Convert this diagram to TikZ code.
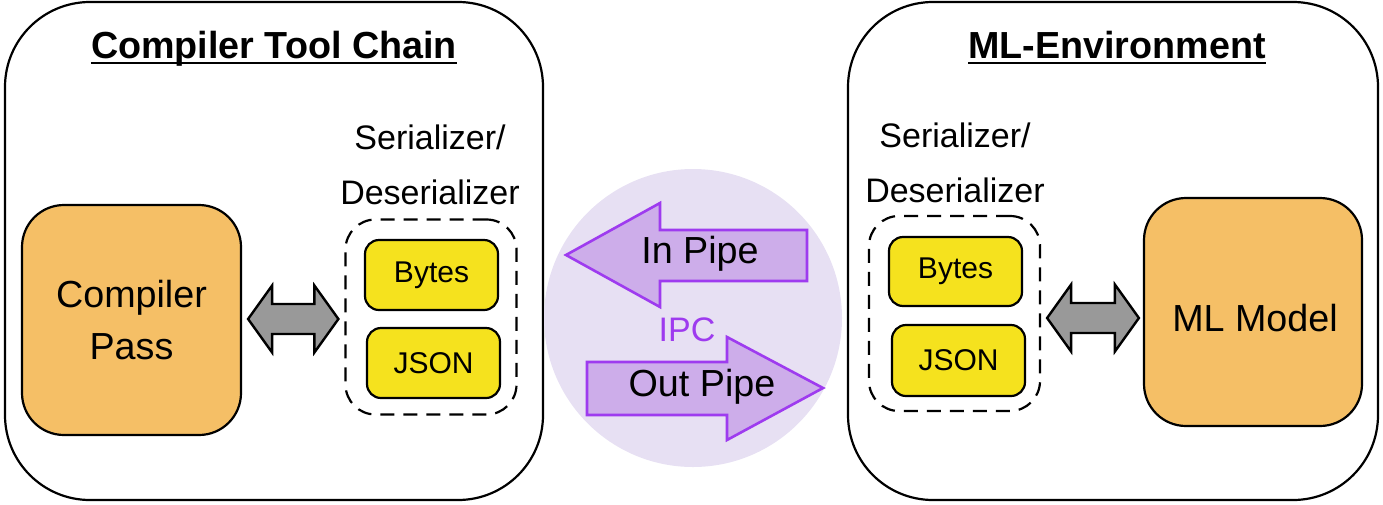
\documentclass[tikz,border=0pt]{standalone}
\usepackage{fontspec}
\setmainfont{Liberation Sans}
\usetikzlibrary{calc}

\definecolor{passorange}{HTML}{F5BF66}
\definecolor{fmtyellow}{HTML}{F5E21E}
\definecolor{linkgray}{HTML}{999999}
\definecolor{ipcbg}{HTML}{E7E0F3}
\definecolor{pipefill}{HTML}{CDADEA}
\definecolor{pipeline}{HTML}{9E3BEF}

\tikzset{
  outerbox/.style={draw=black, line width=2.2pt, rounded corners=85pt},
  stagebox/.style={draw=black, line width=2.2pt, fill=passorange, rounded corners=42pt},
  fmtbox/.style={draw=black, line width=2.2pt, fill=fmtyellow, rounded corners=14pt},
  groupbox/.style={draw=black, line width=2.2pt, dash pattern=on 14pt off 9pt, rounded corners=30pt},
  linkarrow/.style={draw=black, line width=2.4pt, fill=linkgray, line join=miter},
  pipe/.style={draw=pipeline, line width=2.6pt, fill=pipefill, line join=miter},
  bigtext/.style={font=\fontsize{37.7}{52}\selectfont, inner sep=0pt},
  midtext/.style={font=\fontsize{34}{40}\selectfont, inner sep=0pt},
  smalltext/.style={font=\fontsize{30}{34}\selectfont, inner sep=0pt},
  titletext/.style={font=\fontsize{37.7}{45}\selectfont\bfseries, inner sep=0pt},
}

% two-headed block arrow between a left and a right tip on one level
\newcommand\dblarrow[2]{%
  \path[linkarrow] let \p1=(#1), \p2=(#2) in
    (\x1,\y1) -- (\x1+24pt,\y1+33.5pt) -- (\x1+24pt,\y1+15pt)
    -- (\x2-24pt,\y1+15pt) -- (\x2-24pt,\y1+33.5pt) -- (\x2,\y1)
    -- (\x2-24pt,\y1-33.5pt) -- (\x2-24pt,\y1-15pt)
    -- (\x1+24pt,\y1-15pt) -- (\x1+24pt,\y1-33.5pt) -- cycle;}

\begin{document}
\begin{tikzpicture}[x=1pt, y=-1pt]
\useasboundingbox (0,0) rectangle (1383,504);

% ---------- compiler side ----------
\draw[outerbox] (5,2) rectangle (543,500);
\node[titletext, anchor=base] (titleL) at (274,58) {Compiler Tool Chain};
\draw[line width=2.6pt] ([yshift=-5pt]titleL.base west) -- ([yshift=-5pt]titleL.base east);

\node[stagebox, minimum width=219pt, minimum height=230pt] (pass) at (131.5,320) {};
\node[bigtext, align=center] (passtxt) at (pass.center) {Compiler\\Pass};

\node[midtext, anchor=base] (serL1) at (430,149) {Serializer/};
\node[midtext, anchor=base] (serL2) at (430,204) {Deserializer};

\node[groupbox, minimum width=171pt, minimum height=195pt] (grpL) at (431,317) {};
\node[fmtbox, minimum width=133pt, minimum height=70pt] (bytesL) at (431.5,275) {};
\node[smalltext] at (bytesL.center) {Bytes};
\node[fmtbox, minimum width=133pt, minimum height=70pt] (jsonL) at (433.5,363) {};
\node[smalltext] at (jsonL.center) {JSON};

\coordinate (lkL1) at ($(pass.east)+(6,-1)$);
\coordinate (lkL2) at ($(grpL.west)+(-6,2)$);
\dblarrow{lkL1}{lkL2}

% ---------- IPC channel ----------
\node[circle, fill=ipcbg, minimum size=298pt, inner sep=0pt] (ipc) at (693,318) {};
\path[pipe] (566,255) -- (660,203) -- (660,230) -- (807,230) -- (807,281)
  -- (660,281) -- (660,307) -- cycle;
\node[bigtext] (inpipe) at (700,254) {In Pipe};
\node[midtext, text=pipeline] (ipctxt) at (687,330) {IPC};
\path[pipe] (823,388) -- (727,337) -- (727,362) -- (587,362) -- (587,415)
  -- (727,415) -- (727,440) -- cycle;
\node[bigtext] (outpipe) at (702,387) {Out Pipe};

% ---------- ML side ----------
\draw[outerbox] (848,2) rectangle (1378,500);
\node[titletext, anchor=base] (titleR) at (1117,58) {ML-Environment};
\draw[line width=2.6pt] ([yshift=-5pt]titleR.base west) -- ([yshift=-5pt]titleR.base east);

\node[midtext, anchor=base] (serR1) at (955,147) {Serializer/};
\node[midtext, anchor=base] (serR2) at (955,202) {Deserializer};

\node[groupbox, minimum width=171pt, minimum height=195pt] (grpR) at (954.5,313.5) {};
\node[fmtbox, minimum width=133pt, minimum height=69pt] (bytesR) at (955.5,271.5) {};
\node[smalltext] at (bytesR.center) {Bytes};
\node[fmtbox, minimum width=133pt, minimum height=71pt] (jsonR) at (958.5,360.5) {};
\node[smalltext] at (jsonR.center) {JSON};

\node[stagebox, minimum width=218pt, minimum height=228pt] (model) at (1253,312) {};
\node[bigtext] (modeltxt) at (1255,318) {ML Model};

\coordinate (lkR1) at ($(grpR.east)+(6,4.5)$);
\coordinate (lkR2) at ($(model.west)+(-4,6)$);
\dblarrow{lkR1}{lkR2}
\end{tikzpicture}
\end{document}
